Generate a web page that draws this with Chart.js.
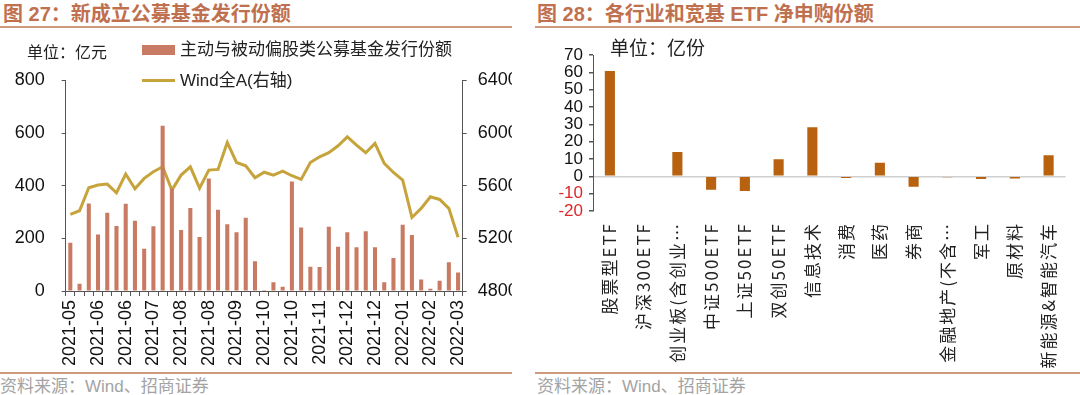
<!DOCTYPE html>
<html>
<head>
<meta charset="utf-8">
<script src="https://cdn.jsdelivr.net/npm/chart.js@4.4.1/dist/chart.umd.min.js"></script>
<style>
  html, body { margin: 0; padding: 0; background: #fff; }
  body { width: 1080px; height: 395px; position: relative; overflow: hidden;
         font-family: "Liberation Sans", "Noto Sans CJK SC", sans-serif; }
  .abs { position: absolute; white-space: nowrap; }
  .title { font-size: 20px; font-weight: bold; color: #bf704e; line-height: 1; }
  .rule { position: absolute; height: 2px; background: #cf9a7c; }
  .src { font-size: 17px; color: #a3a3a3; line-height: 1; }
  .unit { font-size: 16px; color: #222; line-height: 1; font-family: "Noto Sans CJK SC", sans-serif; }
  .leg { font-size: 17px; color: #222; line-height: 1; }
  canvas { position: absolute; }
</style>
</head>
<body>
  <div class="abs title" style="left:3px; top:4px;">图 27：新成立公募基金发行份额</div>
  <div class="rule" style="left:0; width:512px; top:26px;"></div>
  <div class="abs title" style="left:537px; top:4px;">图 28：各行业和宽基 ETF 净申购份额</div>
  <div class="rule" style="left:535px; width:545px; top:26px;"></div>

  <canvas id="c1" width="512" height="372" style="left:0; top:0;"></canvas>
  <canvas id="c2" width="545" height="372" style="left:535px; top:0;"></canvas>

  <div class="abs unit" style="left:27px; top:43px;">单位：亿元</div>
  <div class="abs" style="left:142px; top:45px; width:33px; height:10px; background:#c97a62;"></div>
  <div class="abs leg" style="left:180px; top:41px;">主动与被动偏股类公募基金发行份额</div>
  <div class="abs" style="left:142px; top:79px; width:33px; height:3px; background:#c6a43b;"></div>
  <div class="abs leg" style="left:180px; top:72px;">Wind全A(右轴)</div>

  <div class="abs unit" style="left:610px; top:37px; font-size:19px;">单位：亿份</div>

  <div class="rule" style="left:0; width:512px; top:372px;"></div>
  <div class="abs src" style="left:0; top:378px;">资料来源：Wind、招商证券</div>
  <div class="rule" style="left:535px; width:545px; top:372px;"></div>
  <div class="abs src" style="left:537px; top:378px;">资料来源：Wind、招商证券</div>

<script>
// ---------- Chart 27 data ----------
const fundWeeks = [
  '2021-05','2021-05','2021-05',
  '2021-06','2021-06','2021-06','2021-06',
  '2021-07','2021-07','2021-07','2021-07','2021-07',
  '2021-08','2021-08','2021-08','2021-08',
  '2021-09','2021-09','2021-09','2021-09',
  '2021-10','2021-10','2021-10','2021-10','2021-10',
  '2021-11','2021-11','2021-11','2021-11',
  '2021-12','2021-12','2021-12','2021-12','2021-12',
  '2022-01','2022-01','2022-01','2022-01',
  '2022-02','2022-02','2022-02','2022-02',
  '2022-03'
];
const fundIssuance = [183, 28, 333, 215, 297, 247, 332, 267, 161, 246,
  628, 390, 232, 315, 205, 428, 309, 254, 223, 278,
  113, 4, 33, 16, 416, 241, 92, 91, 244, 168,
  223, 166, 227, 166, 33, 125, 252, 213, 44, 9,
  39, 109, 70];
const windA = [5382, 5410, 5585, 5605, 5613, 5547, 5689, 5577, 5656, 5706,
  5744, 5567, 5681, 5744, 5582, 5719, 5724, 5929, 5777, 5752,
  5661, 5703, 5681, 5711, 5676, 5648, 5777, 5820, 5851, 5904,
  5972, 5909, 5851, 5922, 5770, 5701, 5643, 5359, 5428, 5516,
  5496, 5428, 5208];
const leftTicks = [0, 200, 400, 600, 800];
const rightTicks = [4800, 5200, 5600, 6000, 6400];

// ---------- Chart 28 data ----------
const etfCategories = ['股票型ETF','沪深300ETF','创业板(含创业…','中证500ETF','上证50ETF','双创50ETF',
  '信息技术','消费','医药','券商','金融地产(不含…','军工','原材料','新能源&智能汽车'];
const etfNetSub = [60.7, 0, 14.1, -7.7, -8.5, 9.8, 28.3, -1.0, 7.9, -6.0, -0.5, -1.5, -1.3, 12.1];
const etfTicks = [-20, -10, 0, 10, 20, 30, 40, 50, 60, 70];

const NUM_FONT = 'Liberation Sans';
const CJK_FONT = 'Noto Sans CJK SC';
const AXIS = '#555';

new Chart(document.getElementById('c1'), {
  data: {
    labels: fundWeeks,
    datasets: [
      { type: 'bar', label: '主动与被动偏股类公募基金发行份额', data: fundIssuance,
        backgroundColor: '#c97a62', yAxisID: 'y', order: 0,
        barPercentage: 0.44, categoryPercentage: 1.0 },
      { type: 'line', label: 'Wind全A(右轴)', data: windA, yAxisID: 'y1', order: 1,
        borderColor: '#c6a43b', borderWidth: 3, pointRadius: 0, tension: 0,
        borderJoinStyle: 'miter' }
    ]
  },
  options: {
    responsive: false, animation: false,
    layout: { padding: { top: 80.5, left: 0, right: 0, bottom: 0 } },
    plugins: { legend: { display: false }, tooltip: { enabled: false } },
    scales: {
      x: {
        offset: true,
        grid: { drawOnChartArea: false, drawTicks: true, tickLength: 5, tickColor: AXIS, offset: true },
        border: { display: true, color: AXIS, width: 1 },
        ticks: { autoSkip: false, minRotation: 90, maxRotation: 90, padding: 4, color: '#111',
          font: { family: NUM_FONT, size: 18 },
          callback: (v, i) => (i % 3 === 0 ? fundWeeks[i] : '') },
        afterFit: (s) => { s.height = 81; }
      },
      y: {
        position: 'left', min: 0, max: 800,
        afterBuildTicks: (s) => { s.ticks = leftTicks.map(v => ({ value: v })); },
        grid: { drawOnChartArea: false, drawTicks: true, tickLength: 4, tickColor: AXIS },
        border: { display: true, color: AXIS, width: 1 },
        ticks: { autoSkip: false, padding: 17, color: '#111', font: { family: NUM_FONT, size: 18 },
          callback: (v) => String(v) },
        afterFit: (s) => { s.width = 65.7; }
      },
      y1: {
        position: 'right', min: 4800, max: 6400,
        afterBuildTicks: (s) => { s.ticks = rightTicks.map(v => ({ value: v })); },
        grid: { drawOnChartArea: false, drawTicks: true, tickLength: 4, tickColor: AXIS },
        border: { display: true, color: AXIS, width: 1 },
        ticks: { autoSkip: false, padding: 11, color: '#111', font: { family: NUM_FONT, size: 18 },
          callback: (v) => String(v) },
        afterFit: (s) => { s.width = 49.3; }
      }
    }
  }
});

const etfChart = new Chart(document.getElementById('c2'), {
  type: 'bar',
  data: {
    labels: etfCategories,
    datasets: [
      { label: '净申购份额', data: etfNetSub, backgroundColor: '#b8620f',
        barPercentage: 0.3, categoryPercentage: 1.0 }
    ]
  },
  options: {
    responsive: false, animation: false,
    layout: { padding: { top: 55, left: 0, right: 0, bottom: 0 } },
    plugins: { legend: { display: false }, tooltip: { enabled: false } },
    scales: {
      x: {
        grid: { display: false, drawTicks: false },
        border: { display: false },
        ticks: { autoSkip: false, minRotation: 90, maxRotation: 90, padding: 11, color: '#222',
          font: { family: CJK_FONT, size: 17 } },
        afterFit: (s) => { s.height = 161; }
      },
      y: {
        min: -20, max: 70,
        afterBuildTicks: (s) => { s.ticks = etfTicks.map(v => ({ value: v })); },
        grid: {
          drawOnChartArea: true, drawTicks: true, tickLength: 4, tickColor: AXIS,
          color: (ctx) => (ctx.tick && ctx.tick.value === 0 ? '#cfcfcf' : 'rgba(0,0,0,0)'),
          lineWidth: 1.5
        },
        border: { display: true, color: AXIS, width: 1 },
        ticks: { autoSkip: false, padding: 6,
          color: (ctx) => (ctx.tick && ctx.tick.value < 0 ? '#e0262b' : '#111'),
          font: { family: NUM_FONT, size: 17 } },
        afterFit: (s) => { s.width = 58; }
      }
    }
  }
});

// widen the category-label letter spacing a little, as in the original
(function () {
  const xs = etfChart.scales.x;
  const orig = xs.drawLabels.bind(xs);
  xs.drawLabels = function (area) {
    const ctx = this.ctx;
    ctx.save();
    if ('letterSpacing' in ctx) ctx.letterSpacing = '2px';
    orig(area);
    ctx.restore();
  };
  etfChart.draw();
})();
</script>
</body>
</html>
